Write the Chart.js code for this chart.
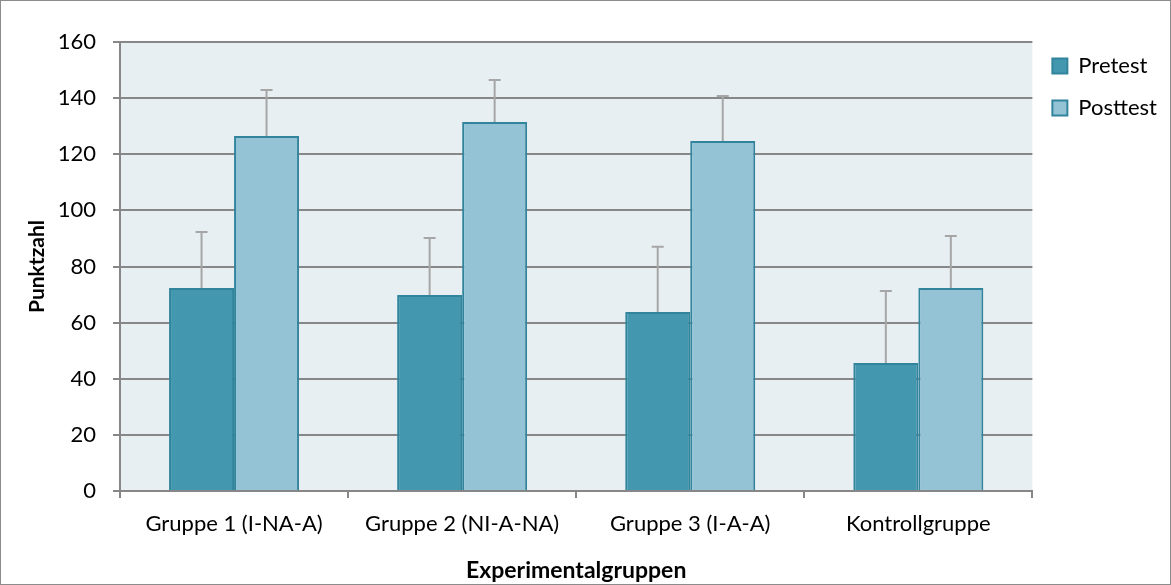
<!DOCTYPE html>
<html>
<head>
<meta charset="utf-8">
<script src="https://cdn.jsdelivr.net/npm/chart.js@4/dist/chart.umd.min.js"></script>
<style>
  html, body { margin: 0; padding: 0; background: #ffffff; }
  #wrap { width: 1171px; height: 585px; box-sizing: border-box; border: 1px solid #8c8c8c; }
</style>
</head>
<body>
<div id="wrap"><canvas id="chart"></canvas></div>
<script>
const categories = ['Gruppe 1 (I-NA-A)', 'Gruppe 2 (NI-A-NA)', 'Gruppe 3 (I-A-A)', 'Kontrollgruppe'];
const pretest = [72.3, 69.8, 63.8, 45.6];
const posttest = [126.5, 131.5, 124.7, 72.3];
const pretestError = [20.0, 20.4, 23.2, 25.7];
const posttestError = [16.4, 15.0, 16.1, 18.6];
const yTicks = [0, 20, 40, 60, 80, 100, 120, 140, 160];

const fontFamily = 'Lato, "Open Sans", sans-serif';
const gridColor = '#878787';

// fondo del area de trazado
const plotBackground = {
  id: 'plotBackground',
  beforeDraw(chart) {
    const { ctx, chartArea } = chart;
    ctx.save();
    ctx.fillStyle = '#e8eff3';
    ctx.fillRect(chartArea.left, chartArea.top, chartArea.right - chartArea.left, chartArea.bottom - chartArea.top);
    ctx.restore();
  },
};

// subir un poco la leyenda
const legendShift = {
  id: 'legendShift',
  afterLayout(chart) {
    if (chart.legend) {
      chart.legend.top -= 7;
      chart.legend.bottom -= 7;
    }
  },
};

// barras de error (solo hacia arriba)
const errorBars = {
  id: 'errorBars',
  afterDatasetsDraw(chart) {
    const ctx = chart.ctx;
    const yScale = chart.scales.y;
    ctx.save();
    ctx.strokeStyle = '#a6a6a6';
    ctx.lineWidth = 2;
    chart.data.datasets.forEach((ds, i) => {
      const meta = chart.getDatasetMeta(i);
      meta.data.forEach((bar, j) => {
        const top = yScale.getPixelForValue(ds.data[j] + ds.errors[j]);
        ctx.beginPath();
        ctx.moveTo(bar.x, bar.y);
        ctx.lineTo(bar.x, top);
        ctx.moveTo(bar.x - 6, top);
        ctx.lineTo(bar.x + 6, top);
        ctx.stroke();
      });
    });
    ctx.restore();
  },
};

new Chart(document.getElementById('chart'), {
  type: 'bar',
  data: {
    labels: categories,
    datasets: [
      {
        label: 'Pretest',
        data: pretest,
        errors: pretestError,
        backgroundColor: '#4398af',
        borderColor: '#31849b',
        borderWidth: 2,
        categoryPercentage: 0.57,
        barPercentage: 1.0,
      },
      {
        label: 'Posttest',
        data: posttest,
        errors: posttestError,
        backgroundColor: '#93c3d5',
        borderColor: '#31849b',
        borderWidth: 2,
        categoryPercentage: 0.57,
        barPercentage: 1.0,
      },
    ],
  },
  options: {
    responsive: true,
    maintainAspectRatio: false,
    animation: false,
    layout: {
      padding: { top: 41, right: 3, bottom: 0, left: 0 },
    },
    plugins: {
      tooltip: { enabled: false },
      legend: {
        position: 'right',
        align: 'start',
        labels: {
          boxWidth: 15,
          boxHeight: 15,
          padding: 20,
          color: '#000000',
          font: { family: fontFamily, size: 22 },
        },
      },
    },
    scales: {
      x: {
        afterFit(scale) { scale.height = 93; },
        grid: {
          offset: true,
          drawOnChartArea: false,
          color: gridColor,
          lineWidth: 2,
          tickLength: 7,
        },
        border: { color: gridColor, width: 2 },
        ticks: {
          padding: 13,
          color: '#000000',
          font: { family: fontFamily, size: 22 },
        },
        title: {
          display: true,
          text: 'Experimentalgruppen',
          color: '#000000',
          padding: { top: 7, bottom: 0 },
          font: { family: fontFamily, size: 23, weight: 'bold' },
        },
      },
      y: {
        min: 0,
        max: 160,
        afterFit(scale) { scale.width = 119; },
        afterBuildTicks(scale) { scale.ticks = yTicks.map((v) => ({ value: v })); },
        grid: {
          color: gridColor,
          lineWidth: 2,
          tickLength: 7,
        },
        border: { color: gridColor, width: 2 },
        ticks: {
          padding: 17,
          color: '#000000',
          font: { family: fontFamily, size: 22 },
        },
        title: {
          display: true,
          text: 'Punktzahl',
          color: '#000000',
          padding: { top: 24, bottom: 0 },
          font: { family: fontFamily, size: 21, weight: 'bold' },
        },
      },
    },
  },
  plugins: [plotBackground, legendShift, errorBars],
});
</script>
</body>
</html>
